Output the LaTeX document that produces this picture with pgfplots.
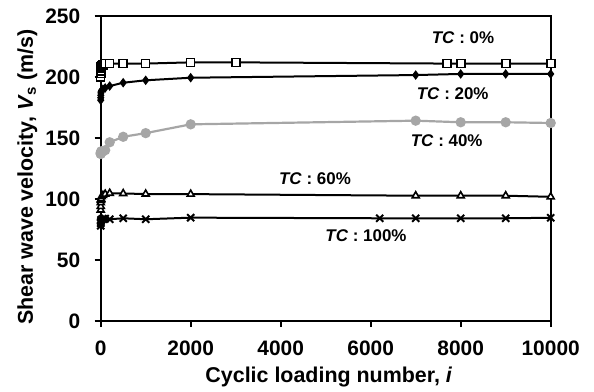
\documentclass[border=0pt]{standalone}
\usepackage{fontspec}
\setmainfont{Liberation Sans}
\usepackage{pgfplots}
\pgfplotsset{compat=1.18}
\definecolor{grayc}{HTML}{A6A6A6}
\begin{document}
\begin{tikzpicture}
\begin{axis}[
 scale only axis, width=450bp, height=305bp,
 xmin=0, xmax=10000, ymin=0, ymax=250,
 xtick={0,2000,4000,6000,8000,10000}, ytick={0,50,100,150,200,250},
 scaled x ticks=false,
 /pgf/number format/1000 sep={},
 /pgf/number format/assume math mode=true,
 tick label style={font=\bfseries\fontsize{21}{25}\selectfont},
 yticklabel style={xshift=-11bp},
 xticklabel style={yshift=-10bp},
 tick align=outside, tick pos=left, major tick length=6bp,
 axis line style={line width=2.2bp},
 every tick/.style={line width=2bp, black},
 clip=false,
 xlabel={\bfseries Cyclic loading number, \textit{i}},
 ylabel={\bfseries Shear wave velocity, \textit{V}\textsubscript{s} (m/s)},
 label style={font=\bfseries\fontsize{21.5}{25}\selectfont},
 xlabel style={at={(axis description cs:0.507,-0.185)}, anchor=center},
 ylabel style={at={(axis description cs:-0.163,0.472)}, anchor=center},
]
% TC 0%
\addplot[black, line width=2bp, mark=square*, mark size=4bp, mark options={fill=white, line width=1.6bp}] coordinates {
(0,200) (1,203) (2,205) (5,207) (10,208) (20,209) (50,210) (100,211) (200,211) (500,211) (1000,211) (2000,212) (3000,212) (7700,211) (8000,211) (9000,211) (10000,211)};
% TC 20%
\addplot[black, line width=2bp, mark=diamond*, mark size=4bp, mark options={fill=black, line width=1bp}] coordinates {
(0,181) (1,183) (2,185) (5,187) (10,188) (20,189) (50,190) (100,191) (200,192.6) (500,195.3) (1000,197.3) (2000,199.4) (7000,201.6) (8000,202.5) (9000,202.5) (10000,202.5)};
% TC 40%
\addplot[grayc, line width=2.2bp, mark=*, mark size=4bp, mark options={fill=grayc, draw=grayc}] coordinates {
(0,137) (1,137) (2,138) (5,138) (10,139) (20,139) (50,139) (100,140) (200,146.5) (500,151) (1000,154) (2000,161.2) (7000,164.2) (8000,162.9) (9000,162.9) (10000,162.3)};
% TC 60%
\addplot[black, line width=2bp, mark=triangle*, mark size=4bp, mark options={fill=white, line width=1.6bp}] coordinates {
(0,91) (1,94) (2,97) (5,99) (10,100) (20,102) (50,103) (100,104) (200,104.7) (500,104.5) (1000,104.1) (2000,104) (7000,102.7) (8000,102.7) (9000,102.7) (10000,101.8)};
% TC 100%
\addplot[black, line width=2bp, mark=x, mark size=5bp, mark options={line width=2bp}] coordinates {
(0,78) (1,80) (2,81) (5,82) (10,83) (20,83) (50,84) (100,84) (200,83.4) (500,84.2) (1000,83.4) (2000,84.7) (6200,84.2) (7000,84.2) (8000,84.2) (9000,84.2) (10000,84.6)};
\begin{scope}[every node/.style={font=\bfseries\fontsize{17}{20}\selectfont, inner sep=0pt}]
\node at (axis cs:8051,232) {\textit{TC} : 0\%};
\node at (axis cs:7822,186) {\textit{TC} : 20\%};
\node at (axis cs:7689,147.8) {\textit{TC} : 40\%};
\node at (axis cs:4762,117) {\textit{TC} : 60\%};
\node at (axis cs:5895,69.7) {\textit{TC} : 100\%};
\end{scope}
\end{axis}
\path (current axis.south west) ++(-100.7bp,-71bp) rectangle ++(594bp,392bp);
\end{tikzpicture}
\end{document}
